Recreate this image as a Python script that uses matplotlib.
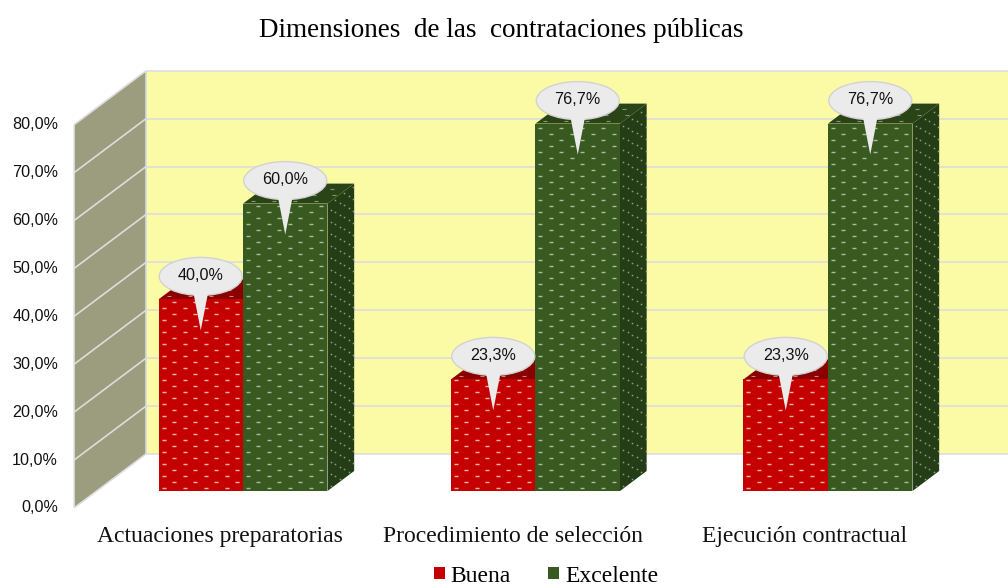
import numpy as np
from matplotlib import pyplot as plt
from matplotlib.patches import Ellipse, Patch, Polygon, Rectangle

categories = ["Actuaciones preparatorias", "Procedimiento de selección", "Ejecución contractual"]
buena = [40.0, 23.3, 23.3]
excelente = [60.0, 76.7, 76.7]
ticks = [0, 10, 20, 30, 40, 50, 60, 70, 80]

# sizes of one pixel in data units, the chart is laid out on the 1008x585 picture
PX = 1 / 292.5
PY = 1 / 4.79
BAR_W = 84.5 * PX
Z0 = 17 / 54       # depth of the bars front face, 0 = wall front, 1 = back wall
Z1 = 37 / 54       # depth of the bars back face
SX = 72 * PX
SY = 54 * PY
X_WALL = -169 * PX + Z0 * SX

RED = ("#C40000", "#8A0000", "#5E0000", "#F2B8B0")
GREEN = ("#385A20", "#2A4418", "#243D16", "#A9BC9C")

fig = plt.figure(figsize=(10.08, 5.85), dpi=100)
ax = fig.add_axes([0, 0, 1, 1])
ax.set_xlim(-243 * PX, 765 * PX)
ax.set_ylim(-94 * PY, 491 * PY)
ax.axis("off")


def proj(x, v, z):
    return x + (z - Z0) * SX, v + (z - Z0) * SY


def face(pts, color, **kw):
    ax.add_patch(Polygon([proj(*p) for p in pts], closed=True, facecolor=color,
                         edgecolor=kw.pop("edge", "none"), **kw))


def grid(p0, p1, color, lw=1.4, zorder=2):
    a = proj(*p0)
    b = proj(*p1)
    ax.plot([a[0], b[0]], [a[1], b[1]], color=color, lw=lw, zorder=zorder, solid_capstyle="butt")


# back wall and side wall
x_right = 765 * PX
face([(X_WALL, 0, 1), (x_right + SX, 0, 1), (x_right + SX, 80, 1), (X_WALL, 80, 1)], "#FBFBA6", zorder=1)
face([(X_WALL, 0, 0), (X_WALL, 0, 1), (X_WALL, 80, 1), (X_WALL, 80, 0)], "#9C9C7E", zorder=1)
for t in ticks:
    grid((X_WALL, t, 1), (x_right + SX, t, 1), "#DDDDDD", lw=1.2)
    grid((X_WALL, t, 0), (X_WALL, t, 1), "#DDDDDD", lw=1.2)
    x0, y0 = proj(X_WALL, t, 0)
    ax.text(x0 - 16 * PX, y0, f"{t:.1f}".replace(".", ",") + "%", ha="right", va="center",
            family="Liberation Sans", fontsize=11.6, color="#111111")
grid((X_WALL, 0, 0), (X_WALL, 80, 0), "#E4E4E4", lw=1.2)
grid((X_WALL, 0, 1), (X_WALL, 80, 1), "#DADADA", lw=1.2)


def bar(x, v, colors, zorder):
    front, top, side, dot = colors
    x1 = x + BAR_W
    face([(x1, 0, Z0), (x1, 0, Z1), (x1, v, Z1), (x1, v, Z0)], side, zorder=zorder)
    face([(x, v, Z0), (x1, v, Z0), (x1, v, Z1), (x, v, Z1)], top, zorder=zorder)
    ax.add_patch(Rectangle((x, 0), BAR_W, v, facecolor=front, edgecolor="none", zorder=zorder))

    # dotted fill
    rows = np.arange(3, v / PY, 6) * PY
    for i, r in enumerate(rows):
        xs = x + (np.arange(5 + (i % 2) * 10.5, 84, 21)) * PX
        ax.plot(xs, np.full_like(xs, r), ls="none", marker="_", ms=3.2, mew=1.0, color=dot, zorder=zorder)
        zs = Z0 + np.arange(0.12 + (i % 2) * 0.17, 1, 0.34) * (Z1 - Z0)
        sx, sy = proj(x1, r, zs)
        ax.plot(sx, sy, ls="none", marker="s", ms=1.1, mew=0, color=dot, alpha=0.8, zorder=zorder)
    for j, zt in enumerate(np.arange(0.15, 1, 0.3)):
        xs = x + np.arange(6 + (j % 2) * 10.5, 84, 21) * PX
        tx, ty = proj(xs, v, Z0 + zt * (Z1 - Z0))
        ax.plot(tx, np.full_like(tx, ty), ls="none", marker="_", ms=2.4, mew=0.8, color=dot, alpha=0.7, zorder=zorder)


def callout(x, v, zorder):
    cx = x + BAR_W / 2
    cy = v + 23 * PY
    tail = [(cx - 8 * PX, cy - 13 * PY), (cx, v - 31 * PY), (cx + 8 * PX, cy - 13 * PY)]
    ax.add_patch(Ellipse((cx, cy), 83 * PX, 38 * PY, facecolor="#EBEBEB", edgecolor="#D2D2D2", lw=1.0, zorder=zorder))
    ax.add_patch(Polygon(tail, closed=True, facecolor="#EBEBEB", edgecolor="none", zorder=zorder))
    ax.text(cx, cy + 1 * PY, f"{v:.1f}".replace(".", ",") + "%", ha="center", va="center",
            family="Liberation Sans", fontsize=11.6, color="#111111", zorder=zorder)


for i, name in enumerate(categories):
    bar(i - BAR_W, buena[i], RED, 3)
    bar(i, excelente[i], GREEN, 4)
    callout(i - BAR_W, buena[i], 5)
    callout(i, excelente[i], 6)
    ax.text(i - 23 * PX, -45.5 * PY, name, ha="center", va="center",
            family="Liberation Serif", fontsize=17, color="#111111")

ax.text(258 * PX, 460 * PY, "Dimensiones  de las  contrataciones públicas", ha="center", va="center",
        family="Liberation Serif", fontsize=19.5, color="black")

ax.legend(handles=[Patch(facecolor=RED[0], label="Buena"), Patch(facecolor=GREEN[0], label="Excelente")],
          ncol=2, frameon=False, loc="center", bbox_to_anchor=(546 / 1008, 9 / 585),
          prop={"family": "Liberation Serif", "size": 17}, handlelength=0.45, handleheight=0.45,
          handletextpad=0.25, columnspacing=1.6, borderpad=0)

fig.savefig("out.png", dpi=100)
